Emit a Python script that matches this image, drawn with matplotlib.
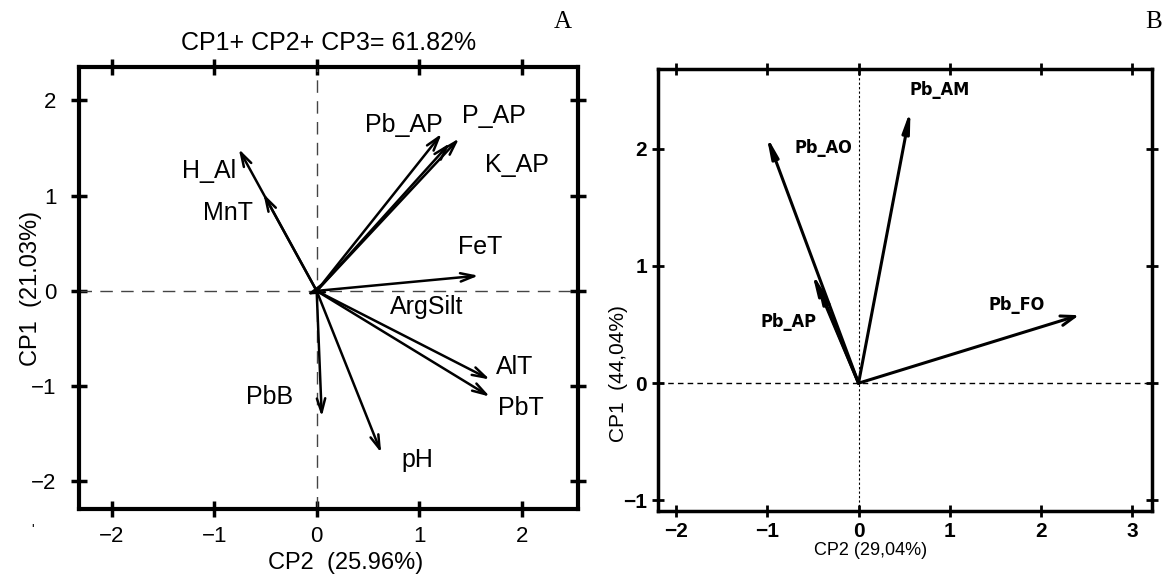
import matplotlib.pyplot as plt

plt.rcParams['font.family'] = ['Liberation Sans', 'DejaVu Sans']

# panel A: loadings (CP2, CP1)
a_vars = ['H_Al', 'MnT', 'Pb_AP', 'P_AP', 'K_AP', 'FeT', 'ArgSilt', 'AlT', 'PbT', 'PbB', 'pH']
a_x = [-0.76, -0.52, 1.22, 1.39, 1.30, 1.58, -0.10, 1.69, 1.69, 0.05, 0.63]
a_y = [1.49, 1.02, 1.65, 1.60, 1.55, 0.16, -0.04, -0.93, -1.11, -1.32, -1.70]
a_lab_x = [-1.05, -0.87, 0.85, 1.73, 1.95, 1.60, 1.07, 1.93, 1.99, -0.46, 0.98]
a_lab_y = [1.26, 0.82, 1.74, 1.84, 1.32, 0.46, -0.17, -0.80, -1.23, -1.11, -1.78]
a_title = 'CP1+ CP2+ CP3= 61.82%'
a_xlabel = 'CP2  (25.96%)'
a_ylabel = 'CP1  (21.03%)'

# panel B
b_vars = ['Pb_AO', 'Pb_AM', 'Pb_AP', '', 'Pb_FO']
b_x = [-1.01, 0.57, -0.51, -0.46, 2.42]
b_y = [2.11, 2.33, 0.94, 0.87, 0.58]
b_lab_x = [-0.39, 0.89, -0.77, 0, 1.74]
b_lab_y = [2.01, 2.50, 0.52, 0, 0.67]
b_xlabel = 'CP2 (29,04%)'
b_ylabel = 'CP1  (44,04%)'

fig = plt.figure(figsize=(11.68, 5.74), dpi=100)

# ---- A ----
ax = fig.add_axes([0.0676, 0.1132, 0.4272, 0.770])
ax.set_xlim(-2.32, 2.55)
ax.set_ylim(-2.29, 2.35)
ax.axhline(0, color='#444444', lw=1, ls=(0, (9, 6)))
ax.axvline(0, color='#444444', lw=1, ls=(0, (9, 6)))
for i in range(len(a_vars)):
    ax.annotate('', xy=(a_x[i], a_y[i]), xytext=(0, 0),
                arrowprops=dict(arrowstyle='->,head_length=1.0,head_width=0.3',
                                color='black', lw=1.8, shrinkA=0, shrinkB=0))
    ax.text(a_lab_x[i], a_lab_y[i], a_vars[i], fontsize=18, ha='center', va='center')
ax.set_xticks([-2, -1, 0, 1, 2])
ax.set_yticks([-2, -1, 0, 1, 2])
ax.tick_params(direction='inout', length=12, width=2.5, labelsize=16, top=True, right=True)
ax.tick_params(axis='x', pad=6)
ax.tick_params(axis='y', pad=10)
for s in ax.spines.values():
    s.set_linewidth(3)
ax.set_title(a_title, fontsize=18, pad=12)
ax.set_xlabel(a_xlabel, fontsize=17)
ax.xaxis.set_label_coords(0.535, -0.097)
ax.set_ylabel(a_ylabel, fontsize=17)
ax.yaxis.set_label_coords(-0.075, 0.5)
fig.text(0.482, 0.962, 'A', fontsize=18, family='Liberation Serif', ha='center', va='center')
fig.text(33 / 1168, 1 - 530 / 574, "'", fontsize=10, ha='center', va='center')

# ---- B ----
narrow = dict(family='DejaVu Sans', stretch='condensed', weight='bold')
bx = fig.add_axes([0.5634, 0.1098, 0.4229, 0.770])
bx.set_xlim(-2.2, 3.22)
bx.set_ylim(-1.09, 2.68)
bx.axhline(0, color='black', lw=1, ls=(0, (4, 3)))
bx.axvline(0, color='black', lw=0.8, ls=(0, (2, 2)))
for i in range(len(b_vars)):
    if b_vars[i] == 'Pb_FO':
        style = '->,head_length=1.0,head_width=0.35'
    else:
        style = '-|>,head_length=1.2,head_width=0.2'
    bx.annotate('', xy=(b_x[i], b_y[i]), xytext=(0, 0),
                arrowprops=dict(arrowstyle=style, color='black', lw=2.2,
                                shrinkA=0, shrinkB=0))
    if b_vars[i]:
        bx.text(b_lab_x[i], b_lab_y[i], b_vars[i], fontsize=13, ha='center', va='center',
                **narrow)
bx.set_xticks([-2, -1, 0, 1, 2, 3])
bx.set_yticks([-1, 0, 1, 2])
bx.tick_params(direction='inout', length=8, width=2, labelsize=15, pad=4,
               top=True, right=True)
for lab in bx.get_xticklabels() + bx.get_yticklabels():
    lab.set_fontstretch('condensed')
    lab.set_weight('bold')
for s in bx.spines.values():
    s.set_linewidth(2.5)
bx.set_xlabel(b_xlabel, fontsize=13, fontstretch='condensed')
bx.xaxis.set_label_coords(0.43, -0.07)
bx.set_ylabel(b_ylabel, fontsize=15)
bx.yaxis.set_label_coords(-0.06, 0.31)
fig.text(0.988, 0.962, 'B', fontsize=18, family='Liberation Serif', ha='center', va='center')

fig.savefig('out.png', dpi=100)
